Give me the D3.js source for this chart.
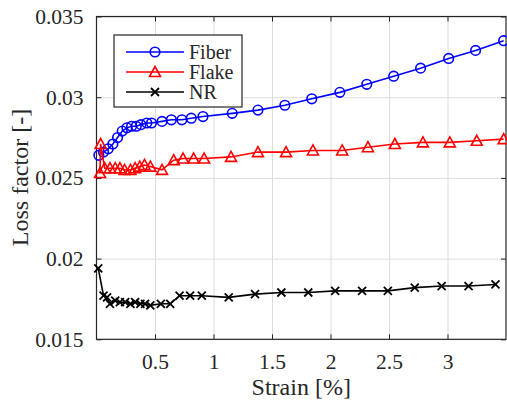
<!DOCTYPE html>
<html><head><meta charset="utf-8">
<script src="https://cdn.jsdelivr.net/npm/d3@7"></script>
<style>
html,body{margin:0;padding:0;background:#fff;}
svg, svg text{font-family:"Liberation Serif","Times New Roman","DejaVu Serif",serif !important;}
</style></head>
<body>
<svg id="chart" width="507" height="404"></svg>
<script>
const fiberX = [0.02,0.06,0.1,0.14,0.18,0.22,0.26,0.3,0.34,0.38,0.43,0.47,0.56,0.64,0.73,0.81,0.91,1.16,1.38,1.61,1.84,2.08,2.31,2.54,2.77,3.01,3.24,3.48];
const fiberY = [0.0264,0.0266,0.0268,0.0271,0.0275,0.0279,0.0281,0.0282,0.0282,0.0283,0.0284,0.0284,0.0285,0.0286,0.0286,0.0287,0.0288,0.0290,0.0292,0.0295,0.0299,0.0303,0.0308,0.0313,0.0318,0.0324,0.0329,0.0335];
const flakeX = [0.03,0.035,0.07,0.115,0.16,0.2,0.24,0.29,0.33,0.37,0.41,0.46,0.56,0.66,0.74,0.83,0.92,1.15,1.38,1.62,1.85,2.1,2.32,2.55,2.79,3.02,3.25,3.48];
const flakeY = [0.0253,0.0271,0.0256,0.0256,0.0256,0.0256,0.0255,0.0255,0.0256,0.0257,0.0258,0.0257,0.0255,0.0261,0.0262,0.0262,0.0262,0.0263,0.0266,0.0266,0.0267,0.0267,0.0269,0.0271,0.0272,0.0272,0.0273,0.0274];
const nrX = [0.015,0.06,0.09,0.115,0.16,0.2,0.245,0.29,0.33,0.375,0.415,0.46,0.55,0.63,0.71,0.8,0.9,1.13,1.355,1.58,1.81,2.04,2.27,2.49,2.72,2.95,3.18,3.41];
const nrY = [0.0194,0.0177,0.0176,0.0172,0.0174,0.0173,0.0173,0.0172,0.0173,0.0172,0.0172,0.0171,0.0172,0.0172,0.0177,0.0177,0.0177,0.0176,0.0178,0.0179,0.0179,0.0180,0.0180,0.0180,0.0182,0.0183,0.0183,0.0184];
const seriesNames = ["Fiber","Flake","NR"];
const xTicks = [0.5,1,1.5,2,2.5,3];
const xTickLabels = ["0.5","1","1.5","2","2.5","3"];
const yTicks = [0.015,0.02,0.025,0.03,0.035];
const yTickLabels = ["0.015","0.02","0.025","0.03","0.035"];
const xLabel = "Strain [%]";
const yLabel = "Loss factor [-]";

const FONT = '"Liberation Serif","Times New Roman","DejaVu Serif",serif';
const L = 96.5, R = 506, T = 16.5, B = 339.3;
const svg = d3.select("#chart");
const x = d3.scaleLinear().domain([0,3.5]).range([L,R]);
const y = d3.scaleLinear().domain([0.015,0.035]).range([B,T]);
const axisColor = "#262626";

// grid
const grid = svg.append("g");
grid.append("g").attr("transform",`translate(0,${B})`)
  .call(d3.axisBottom(x).tickValues(xTicks).tickSize(-(B-T)).tickFormat(""))
  .call(g=>{g.select(".domain").remove(); g.selectAll("line").attr("stroke","#dcdcdc").attr("stroke-width",1);});
grid.append("g").attr("transform",`translate(${L},0)`)
  .call(d3.axisLeft(y).tickValues(yTicks).tickSize(-(R-L)).tickFormat(""))
  .call(g=>{g.select(".domain").remove(); g.selectAll("line").attr("stroke","#dcdcdc").attr("stroke-width",1);});

function styleAxis(g){g.select(".domain").remove(); g.selectAll("line").attr("stroke",axisColor); g.attr("font-family",FONT).style("font-family",FONT);}
const xb = svg.append("g").attr("transform",`translate(0,${B})`)
  .call(d3.axisBottom(x).tickValues(xTicks).tickSizeInner(-5).tickSizeOuter(0).tickPadding(14).tickFormat((d,i)=>xTickLabels[i]));
styleAxis(xb);
xb.selectAll("text").attr("font-size",21.5).attr("fill",axisColor).style("font-family",FONT);
svg.append("g").attr("transform",`translate(0,${T})`)
  .call(d3.axisTop(x).tickValues(xTicks).tickSizeInner(-5).tickSizeOuter(0).tickFormat("")).call(styleAxis);
const yl = svg.append("g").attr("transform",`translate(${L},0)`)
  .call(d3.axisLeft(y).tickValues(yTicks).tickSizeInner(-5).tickSizeOuter(0).tickPadding(13).tickFormat((d,i)=>yTickLabels[i]));
styleAxis(yl);
yl.selectAll("text").attr("font-size",21.5).attr("fill",axisColor).style("font-family",FONT);
svg.append("g").attr("transform",`translate(${R},0)`)
  .call(d3.axisRight(y).tickValues(yTicks).tickSizeInner(-5).tickSizeOuter(0).tickFormat("")).call(styleAxis);

svg.append("rect").attr("x",L).attr("y",T).attr("width",R-L).attr("height",B-T)
  .attr("fill","none").attr("stroke",axisColor).attr("stroke-width",1.2);

// labels
svg.append("text").attr("x",(L+R)/2).attr("y",395).attr("text-anchor","middle")
  .attr("font-size",24).attr("fill",axisColor).style("font-family",FONT).text(xLabel);
svg.append("text").attr("transform",`translate(28,177.5) rotate(-90)`).attr("text-anchor","middle")
  .attr("font-size",24).attr("fill",axisColor).style("font-family",FONT).text(yLabel);

// markers
function circleM(g,cx,cy,c){g.append("circle").attr("cx",cx).attr("cy",cy).attr("r",4.8).attr("fill","none").attr("stroke",c).attr("stroke-width",1.6);}
function triM(g,cx,cy,c){g.append("path").attr("d",`M${cx},${cy-5.5}L${cx+5.5},${cy+4.5}L${cx-5.5},${cy+4.5}Z`).attr("fill","none").attr("stroke",c).attr("stroke-width",1.6);}
function xM(g,cx,cy,c){const s=4;g.append("path").attr("d",`M${cx-s},${cy-s}L${cx+s},${cy+s}M${cx-s},${cy+s}L${cx+s},${cy-s}`).attr("stroke",c).attr("stroke-width",1.8);}

const series = [
  {name:seriesNames[0], xs:fiberX, ys:fiberY, color:"#0000ff", marker:circleM},
  {name:seriesNames[1], xs:flakeX, ys:flakeY, color:"#ff0000", marker:triM},
  {name:seriesNames[2], xs:nrX, ys:nrY, color:"#000000", marker:xM}
];
const line = d3.line().x(d=>x(d[0])).y(d=>y(d[1]));
series.forEach(s=>{
  const pts = s.xs.map((v,i)=>[v,s.ys[i]]);
  const g = svg.append("g");
  g.append("path").datum(pts).attr("d",line).attr("fill","none").attr("stroke",s.color).attr("stroke-width",1.6);
  pts.forEach(p=>s.marker(g,x(p[0]),y(p[1]),s.color));
});

// legend
const lg = svg.append("g");
lg.append("rect").attr("x",114).attr("y",35).attr("width",128).attr("height",72)
  .attr("fill","#fff").attr("stroke",axisColor).attr("stroke-width",1.2);
series.forEach((s,i)=>{
  const yy = 52 + i*20;
  lg.append("line").attr("x1",126).attr("x2",184).attr("y1",yy).attr("y2",yy).attr("stroke",s.color).attr("stroke-width",1.6);
  s.marker(lg,155,yy,s.color);
  lg.append("text").attr("x",189).attr("y",yy+6.5).attr("font-size",20).attr("fill",axisColor).style("font-family",FONT).text(s.name);
});
</script>
</body></html>
